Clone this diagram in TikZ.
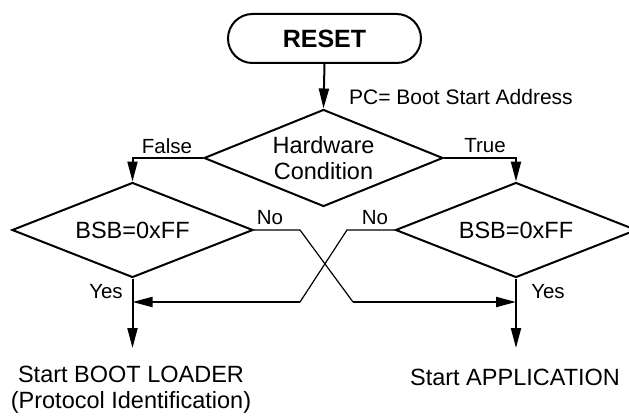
\documentclass[tikz,border=0pt]{standalone}
\usepackage{fontspec}
\setmainfont{Liberation Sans}
\usetikzlibrary{arrows.meta,shapes.geometric,shapes.misc}
\begin{document}
\begin{tikzpicture}[x=1pt,y=-1pt,
  term/.style={draw,line width=2pt,rounded rectangle,minimum width=193pt,minimum height=49pt,inner sep=0pt,font=\fontsize{25}{30}\bfseries\selectfont},
  dia/.style={draw,line width=2pt,diamond,inner sep=0pt},
  txt/.style={inner sep=0pt,align=center,font=\fontsize{23.5}{26}\selectfont},
  lbl/.style={inner sep=0pt,font=\fontsize{20.5}{24}\selectfont},
  arr/.style={line width=2pt,-{Triangle[length=20pt,width=10pt]}},
  thinline/.style={line width=1.2pt}
]
\useasboundingbox (0,0) rectangle (629,417);

\node[term] (reset) at (324.5,38.5) {RESET};

\node[dia,minimum width=239pt,minimum height=97pt] (hw) at (323.5,158) {};
\node[txt] (hwt) at (hw.center) {Hardware\\Condition};

\node[dia,minimum width=241pt,minimum height=95pt] (bl) at (132.5,230) {};
\node[txt] (blt) at (bl.center) {BSB=0xFF};

\node[dia,minimum width=241pt,minimum height=95pt] (br) at (516,230) {};
\node[txt] (brt) at (br.center) {BSB=0xFF};

\coordinate (e1) at (132.5,348);
\coordinate (e2) at (516,348);
\node[txt] (sbl) at (131,390) {Start BOOT LOADER\\(Protocol Identification)};
\node[txt] (sap) at (515,377) {Start APPLICATION};

\draw[arr] (reset.south) -- (hw.north);
\draw[arr] (hw.west) -| (bl.north);
\draw[arr] (hw.east) -| (br.north);
\draw[arr] (bl.south) -- (e1);
\draw[arr] (br.south) -- (e2);

\coordinate (l1) at (300,230);
\coordinate (l2) at (353,302);
\coordinate (r1) at (347,230);
\coordinate (r2) at (300,302);
\draw[thinline] (bl.east) -- (l1) -- (l2);
\draw[arr] (l2) -- (br.south |- l2);
\draw[thinline] (br.west) -- (r1) -- (r2);
\draw[arr] (r2) -- (bl.south |- r2);

\node[lbl] (pc) at (461,97) {\fontsize{21}{24}\selectfont PC= Boot Start Address};
\node[lbl] (fl) at (167,146) {False};
\node[lbl] (tr) at (485,146) {True};
\node[lbl] (no1) at (270,218) {No};
\node[lbl] (no2) at (375,218) {No};
\node[lbl] (y1) at (106,292) {Yes};
\node[lbl] (y2) at (548,292) {Yes};
\end{tikzpicture}
\end{document}
